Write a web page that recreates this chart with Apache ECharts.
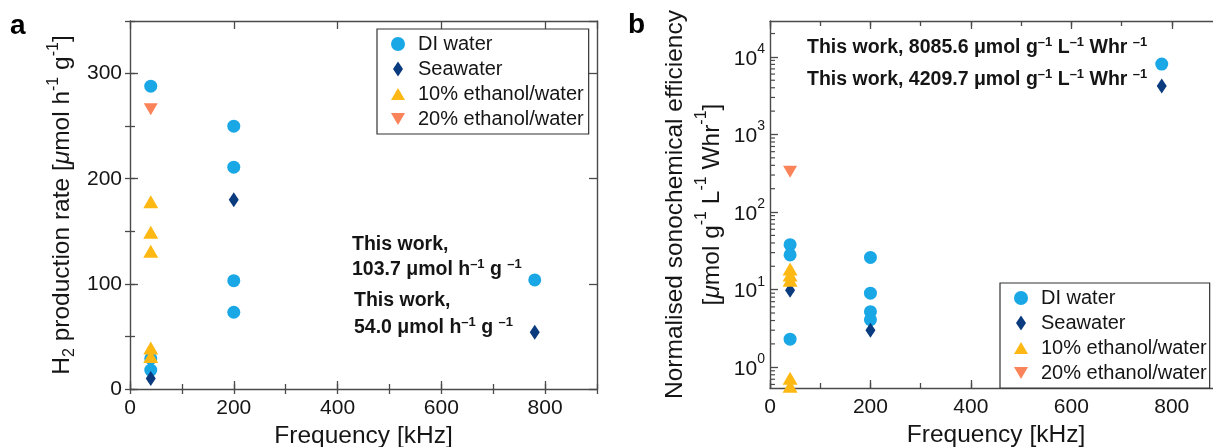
<!DOCTYPE html>
<html><head><meta charset="utf-8">
<script src="https://cdn.jsdelivr.net/npm/echarts@6/dist/echarts.min.js"></script>
<style>html,body{margin:0;padding:0;background:#fff}#c{width:1213px;height:447px}</style>
</head><body><div id="c"></div>
<script>
// ---------- data ----------
const seriesNames = ['DI water', 'Seawater', '10% ethanol/water', '20% ethanol/water'];
// Panel a: H2 production rate [µmol h-1 g-1] vs frequency [kHz]
const aDI    = [[40, 288], [40, 29], [40, 18], [200, 250], [200, 211], [200, 103], [200, 73], [780, 103.7]];
const aSea   = [[40, 10], [200, 180], [780, 54.0]];
const aEth10 = [[40, 178], [40, 149], [40, 131], [40, 39], [40, 31]];
const aEth20 = [[40, 266]];
// Panel b: normalised sonochemical efficiency (log)
const bDI    = [[40, 38], [40, 28], [40, 2.3], [200, 26], [200, 9], [200, 5.2], [200, 4.1], [780, 8085.6]];
const bSea   = [[40, 9.8], [200, 3.0], [780, 4209.7]];
const bEth10 = [[40, 18.5], [40, 15.5], [40, 13.2], [40, 0.72], [40, 0.57]];
const bEth20 = [[40, 330]];
// axes
const xTickLabels = [0, 200, 400, 600, 800];
const aYTickLabels = [0, 100, 200, 300];
const bYDecades = [0, 1, 2, 3, 4];
const minorMantissas = [2, 3, 4, 5, 6, 7, 8, 9];

// ---------- style ----------
const FONT = '"Liberation Sans", Arial, Helvetica, sans-serif';
const AX = '#4a4a4a';
const TXT = '#151515';
const C = ['#19A7E6', '#0B3B7F', '#FDB813', '#FB8359'];
const SYM = ['circle', 'diamond', 'triangle', 'triangle'];
const SIZE = [13, [10, 15], [15, 13], [14, 12]];
const ROT = [0, 0, 0, 180];
const ICON = ['circle', 'path://M5,0L10,7.5L5,15L0,7.5Z', 'path://M7.5,0L15,13L0,13Z', 'path://M0,0L15,0L7.5,13Z'];
const TITLE_FS = 24.5;

const chart = echarts.init(document.getElementById('c'));

function tick(len) { return { show: true, inside: true, length: len, lineStyle: { color: AX, width: 1.3 } }; }
const line = { show: true, onZero: false, lineStyle: { color: AX, width: 1.4 } };

function xAxes(grid) {
  const base = { type: 'value', gridIndex: grid, min: 0, max: 900, splitLine: { show: false } };
  return [
    Object.assign({}, base, {
      position: 'bottom', interval: 200, axisLine: line, axisTick: tick(8),
      axisLabel: { fontSize: 21, color: TXT, fontFamily: FONT, margin: 9, showMaxLabel: false,
        formatter: v => xTickLabels.indexOf(v) >= 0 ? String(v) : '' },
      name: 'Frequency [kHz]', nameLocation: 'middle', nameGap: 32,
      nameTextStyle: { fontSize: TITLE_FS, color: TXT, fontFamily: FONT }
    }),
    Object.assign({}, base, { position: 'bottom', interval: 100, axisLine: { show: false }, axisTick: tick(5), axisLabel: { show: false } }),
    Object.assign({}, base, { position: 'top', interval: 200, axisLine: line, axisTick: tick(8), axisLabel: { show: false } }),
    Object.assign({}, base, { position: 'top', interval: 100, axisLine: { show: false }, axisTick: tick(5), axisLabel: { show: false } })
  ];
}

const nameRich = {
  t: { fontSize: TITLE_FS, fontFamily: FONT, color: TXT, lineHeight: 32 },
  i: { fontSize: TITLE_FS, fontFamily: FONT, color: TXT, lineHeight: 32, fontStyle: 'italic' },
  sup: { fontSize: 16, fontFamily: FONT, color: TXT, lineHeight: 16, verticalAlign: 'top' },
  sub: { fontSize: 16, fontFamily: FONT, color: TXT, lineHeight: 16, verticalAlign: 'bottom' }
};

const aYBase = { type: 'value', gridIndex: 0, min: 0, max: 350, splitLine: { show: false } };
const aYAxes = [
  Object.assign({}, aYBase, {
    position: 'left', interval: 100, axisLine: line, axisTick: tick(8),
    axisLabel: { fontSize: 21, color: TXT, fontFamily: FONT, margin: 8, showMaxLabel: false,
      formatter: v => aYTickLabels.indexOf(v) >= 0 ? String(v) : '' },
    name: '{t|H}{sub|2}{t| production rate [}{i|μ}{t|mol h}{sup|-1}{t| g}{sup|-1}{t|]}',
    nameLocation: 'middle', nameGap: 52, nameRotate: 90,
    nameTextStyle: { rich: nameRich }
  }),
  Object.assign({}, aYBase, { position: 'left', interval: 50, axisLine: { show: false }, axisTick: tick(5), axisLabel: { show: false } }),
  Object.assign({}, aYBase, { position: 'right', interval: 100, axisLine: line, axisTick: tick(8), axisLabel: { show: false } }),
  Object.assign({}, aYBase, { position: 'right', interval: 50, axisLine: { show: false }, axisTick: tick(5), axisLabel: { show: false } })
];

const B_MIN = 0.54, B_MAX = 29000;
const bYBase = { type: 'log', logBase: 10, gridIndex: 1, min: B_MIN, max: B_MAX, splitLine: { show: false } };
const bYAxes = [
  Object.assign({}, bYBase, {
    position: 'left', axisLine: line, axisTick: tick(8),
    axisLabel: {
      margin: 5, showMinLabel: false, showMaxLabel: false,
      formatter: v => {
        const e = Math.round(Math.log10(v));
        return bYDecades.indexOf(e) >= 0 ? '{b|10}{s|' + e + '}' : '';
      },
      rich: {
        b: { fontSize: 21, fontFamily: FONT, color: TXT, lineHeight: 30, padding: [4, 0, 0, 0] },
        s: { fontSize: 14, fontFamily: FONT, color: TXT, lineHeight: 14, verticalAlign: 'top' }
      }
    },
    name: '{t|Normalised sonochemical efficiency}\n{t|[}{i|μ}{t|mol g}{sup|-1}{t| L}{sup|-1}{t| Whr}{sup|-1}{t|]}',
    nameLocation: 'middle', nameGap: 39, nameRotate: 90,
    nameTextStyle: { rich: Object.assign({}, nameRich, {
      t: { fontSize: TITLE_FS, fontFamily: FONT, color: TXT, lineHeight: 37 },
      i: { fontSize: TITLE_FS, fontFamily: FONT, color: TXT, lineHeight: 37, fontStyle: 'italic' },
      sup: { fontSize: 16, fontFamily: FONT, color: TXT, lineHeight: 24, verticalAlign: 'top' }
    }) }
  }),
  Object.assign({}, bYBase, { position: 'right', axisLine: line, axisTick: tick(8), axisLabel: { show: false } })
];

function makeSeries(data, k, xIdx, yIdx) {
  return {
    type: 'scatter', name: seriesNames[k], xAxisIndex: xIdx, yAxisIndex: yIdx, data: data,
    symbol: SYM[k], symbolSize: SIZE[k], symbolRotate: ROT[k],
    itemStyle: { color: C[k], opacity: 1 }, z: 2 + k, emphasis: { disabled: true }
  };
}

function legendAt(left, top, padR) {
  return {
    left: left, top: top, orient: 'vertical', padding: [5, padR, 5, 14], itemGap: 5,
    itemWidth: 14, itemHeight: 15, borderColor: '#333', borderWidth: 1.2, backgroundColor: '#fff',
    selectedMode: false,
    textStyle: { fontSize: 20, lineHeight: 18, color: TXT, fontFamily: FONT, padding: [0, 0, 0, 8] },
    data: seriesNames.map((n, k) => ({ name: n, icon: ICON[k], itemStyle: { color: C[k] } }))
  };
}

const annRich = {
  t: { fontSize: 19.5, fontWeight: 'bold', fontFamily: FONT, fill: TXT, lineHeight: 24 },
  s: { fontSize: 13, fontWeight: 'bold', fontFamily: FONT, fill: TXT, lineHeight: 12, verticalAlign: 'top' }
};
function ann(left, top, text) {
  return { type: 'text', left: left, top: top, z: 50, style: { text: text, rich: annRich } };
}
const baseGraphic = [
  { type: 'text', left: 10, top: 12, style: { text: 'a', font: 'bold 28px ' + FONT, fill: '#000' } },
  { type: 'text', left: 628, top: 11, style: { text: 'b', font: 'bold 28px ' + FONT, fill: '#000' } },
  ann(352, 235, '{t|This work,}'),
  ann(352, 258, '{t|103.7 μmol h}{s|–1}{t| g }{s|–1}'),
  ann(354, 291, '{t|This work,}'),
  ann(354, 316, '{t|54.0 μmol h}{s|–1}{t| g }{s|–1}'),
  ann(807, 36, '{t|This work, 8085.6 μmol g}{s|–1}{t| L}{s|–1}{t| Whr }{s|–1}'),
  ann(807, 68, '{t|This work, 4209.7 μmol g}{s|–1}{t| L}{s|–1}{t| Whr }{s|–1}')
];

chart.setOption({
  animation: false,
  backgroundColor: '#fff',
  grid: [
    { left: 130, top: 21, width: 467, height: 368, outerBoundsMode: 'none', containLabel: false },
    { left: 770, top: 21, width: 452, height: 367, outerBoundsMode: 'none', containLabel: false }
  ],
  xAxis: xAxes(0).concat(xAxes(1)),
  yAxis: aYAxes.concat(bYAxes),
  legend: [legendAt(377, 29, 5), legendAt(1000, 283, 3)],
  series: [
    makeSeries(aDI, 0, 0, 0), makeSeries(aSea, 1, 0, 0), makeSeries(aEth10, 2, 0, 0), makeSeries(aEth20, 3, 0, 0),
    makeSeries(bDI, 0, 4, 4), makeSeries(bSea, 1, 4, 4), makeSeries(bEth10, 2, 4, 4), makeSeries(bEth20, 3, 4, 4)
  ],
  graphic: baseGraphic
});

// log-axis minor ticks (2..9 x 10^n) drawn through the axis scale
const minorGfx = [];
const xl = chart.convertToPixel({ xAxisIndex: 4 }, 0);
const xr = chart.convertToPixel({ xAxisIndex: 4 }, 900);
[-1].concat(bYDecades).forEach(e => {
  minorMantissas.forEach(m => {
    const v = m * Math.pow(10, e);
    if (v <= B_MIN || v >= B_MAX) return;
    const y = chart.convertToPixel({ yAxisIndex: 4 }, v);
    minorGfx.push({ type: 'line', silent: true, z: 5, shape: { x1: xl, y1: y, x2: xl + 5, y2: y }, style: { stroke: AX, lineWidth: 1.2 } });
    minorGfx.push({ type: 'line', silent: true, z: 5, shape: { x1: xr, y1: y, x2: xr - 5, y2: y }, style: { stroke: AX, lineWidth: 1.2 } });
  });
});
chart.setOption({ graphic: baseGraphic.concat(minorGfx) });
</script>
</body></html>
